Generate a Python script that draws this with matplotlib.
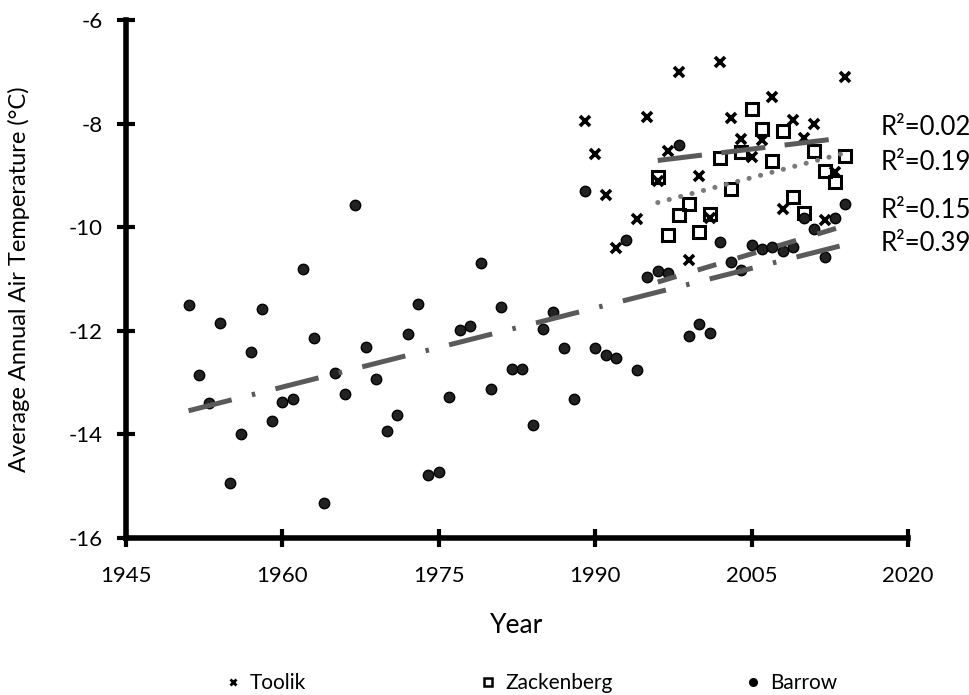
import numpy as np
import matplotlib
matplotlib.use('Agg')
import matplotlib.pyplot as plt
from matplotlib.lines import Line2D

plt.rcParams['font.family'] = ['Lato', 'DejaVu Sans']
plt.rcParams['lines.scale_dashes'] = False
plt.rcParams['axes.unicode_minus'] = False

# --- data ---
barrow_years = list(range(1951, 2015))
barrow_temp = [-11.51, -12.85, -13.40, -11.85, -14.94, -14.00, -12.40, -11.58, -13.75, -13.38,
               -13.31, -10.81, -12.13, -15.33, -12.82, -13.22, -9.57, -12.31, -12.94, -13.93,
               -13.63, -12.06, -11.48, -14.78, -14.72, -13.28, -11.99, -11.90, -10.70, -13.12,
               -11.55, -12.74, -12.74, -13.82, -11.97, -11.63, -12.34, -13.31, -9.30, -12.34,
               -12.47, -12.52, -10.24, -12.76, -10.97, -10.84, -10.89, -8.41, -12.10, -11.87,
               -12.04, -10.28, -10.67, -10.83, -10.34, -10.43, -10.39, -10.46, -10.39, -9.82,
               -10.04, -10.58, -9.83, -9.55]

toolik_years = [1989, 1990, 1991, 1992, 1994, 1995, 1996, 1997, 1998, 1999, 2000, 2001,
                2002, 2003, 2004, 2005, 2006, 2007, 2008, 2009, 2010, 2011, 2012, 2013, 2014]
toolik_temp = [-7.95, -8.59, -9.37, -10.41, -9.85, -7.87, -9.10, -8.53, -7.00, -10.63, -9.01, -9.83,
               -6.82, -7.90, -8.30, -8.65, -8.32, -7.48, -9.64, -7.94, -8.27, -8.01, -9.87, -8.93, -7.11]

zack_years = list(range(1996, 2015))
zack_temp = [-9.04, -10.15, -9.76, -9.56, -10.09, -9.75, -8.67, -9.27, -8.54, -7.72,
             -8.11, -8.72, -8.14, -9.41, -9.73, -8.52, -8.91, -9.12, -8.63]

recent_start = 1996
r2_labels = ['R²=0.02', 'R²=0.19', 'R²=0.15', 'R²=0.39']


def trend(years, temps, start):
    x = np.array(years, dtype=float)
    y = np.array(temps, dtype=float)
    m = x >= start
    coef = np.polyfit(x[m], y[m], 1)
    xs = np.array([x[m].min(), x[m].max()])
    return xs, np.polyval(coef, xs)


fig = plt.figure(figsize=(9.7, 6.95), dpi=100)
ax = fig.add_axes([126 / 970, 1 - 538 / 695, 782 / 970, 518 / 695])

ax.plot(toolik_years, toolik_temp, 'x', color='black', ms=7, mew=2.6, zorder=3)
ax.plot(zack_years, zack_temp, 's', mfc='none', mec='black', ms=8.5, mew=2.2, zorder=3)
ax.plot(barrow_years, barrow_temp, 'o', color='black', mec='black', mfc='#222222', ms=7.5, zorder=3)

line_col = '#5a5a5a'
tx, ty = trend(toolik_years, toolik_temp, recent_start)
ax.plot(tx, ty, color=line_col, lw=3.6, dashes=(32, 14), zorder=4)
zx, zy = trend(zack_years, zack_temp, recent_start)
ax.plot(zx, zy, color='#7a7a7a', lw=3.6, dashes=(0.1, 8.4), dash_capstyle='round', zorder=4)
bx, by = trend(barrow_years, barrow_temp, recent_start)
ax.plot(bx, by, color=line_col, lw=3.6, dashes=(14, 16), zorder=4)
fx, fy = trend(barrow_years, barrow_temp, 1900)
ax.plot(fx, fy, color=line_col, lw=3.6, dashes=(32, 15, 2.5, 15), zorder=4)

for lab, yv in zip(r2_labels, [-8.08, -8.75, -9.68, -10.31]):
    ax.text(2017.4, yv, lab, fontsize=18.5, va='center', ha='left', clip_on=False)

ax.set_xlim(1945, 2020)
ax.set_ylim(-16, -6)
ax.set_xticks(np.arange(1945, 2021, 15))
ax.set_yticks(np.arange(-16, -5, 2))
for s in ['top', 'right']:
    ax.spines[s].set_visible(False)
for s in ['left', 'bottom']:
    ax.spines[s].set_linewidth(4)
ax.tick_params(direction='inout', length=13, width=3, labelsize=16)
ax.tick_params(axis='x', pad=14)
ax.tick_params(axis='y', pad=10)

ax.set_ylabel('Average Annual Air Temperature (°C)', fontsize=17)
ax.yaxis.set_label_coords(-0.1228, 0.5)
ax.set_xlabel('Year', fontsize=19, va='center')
ax.xaxis.set_label_coords(0.5, -0.168)

# legend entries spread like the original
handles = [
    Line2D([], [], ls='none', marker='x', color='black', ms=5, mew=2),
    Line2D([], [], ls='none', marker='s', mfc='none', mec='black', ms=6, mew=1.8),
    Line2D([], [], ls='none', marker='o', color='black', ms=5.5),
]
names = ['Toolik', 'Zackenberg', 'Barrow']
for h, n, xf in zip(handles, names, [0.232, 0.495, 0.768]):
    fig.legend(handles=[h], labels=[n], loc='center left', bbox_to_anchor=(xf, 0.017),
               frameon=False, fontsize=15, handlelength=0.8, handletextpad=0.4,
               borderpad=0, borderaxespad=0)

fig.savefig('out.png', dpi=100)
